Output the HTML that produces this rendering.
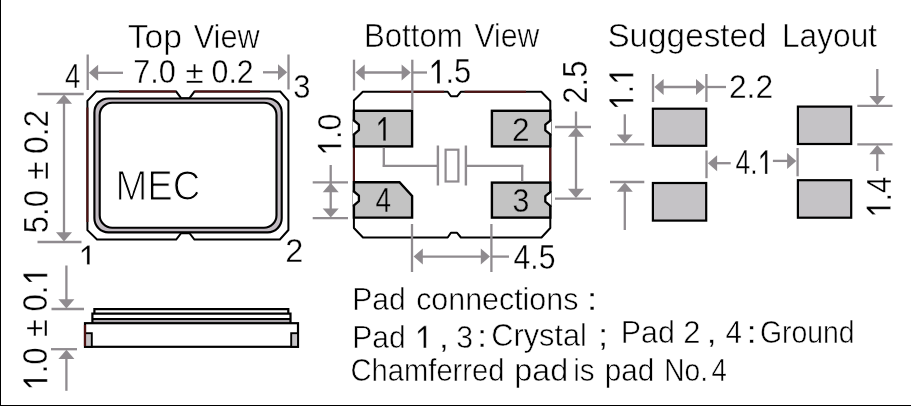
<!DOCTYPE html>
<html><head><meta charset="utf-8"><title>Package drawing</title>
<style>
html,body{margin:0;padding:0;background:#fff;}
body{width:911px;height:406px;overflow:hidden;position:relative;font-family:"Liberation Sans",sans-serif;}
svg{position:absolute;left:0;top:0;display:block;filter:blur(0.6px);}
svg text{font-family:"Liberation Sans",sans-serif;white-space:pre;stroke-linejoin:round;fill:#000;}
.frame{position:absolute;left:0;top:0;width:911px;height:406px;box-sizing:border-box;border-left:1.5px solid #000;border-bottom:1.5px solid #000;}
</style></head><body>
<svg width="911" height="406" viewBox="0 0 911 406">
<rect x="0" y="0" width="911" height="406" fill="#fff"/>
<line x1="87.7" y1="54.5" x2="87.7" y2="90" stroke="#8f8b8f" stroke-width="2.3"/>
<line x1="288.5" y1="54.5" x2="288.5" y2="89.5" stroke="#8f8b8f" stroke-width="2.3"/>
<polygon points="88.90,72.80 98.10,64.80 98.10,80.80" fill="#8f8b8f"/>
<line x1="97" y1="72.8" x2="123" y2="72.8" stroke="#8f8b8f" stroke-width="2.3"/>
<polygon points="287.20,72.30 278.00,64.30 278.00,80.30" fill="#8f8b8f"/>
<line x1="263" y1="72.3" x2="279" y2="72.3" stroke="#8f8b8f" stroke-width="2.3"/>
<g transform="translate(127.73,47.50) scale(1.0524,1.0462)" stroke="#fff" stroke-width="0.55"><text font-size="32">Top</text></g>
<g transform="translate(193.65,47.50) scale(0.9601,1.0462)" stroke="#fff" stroke-width="0.55"><text font-size="32">View</text></g>
<g transform="translate(133.37,83.40) scale(0.9555,1.0580)" stroke="#fff" stroke-width="0.35"><text font-size="32">7.0</text></g>
<g transform="translate(185.41,83.40) scale(1.0332,0.9688)" stroke="#fff" stroke-width="0.35"><text font-size="32">±</text></g>
<g transform="translate(211.59,83.40) scale(0.9471,1.0580)" stroke="#fff" stroke-width="0.35"><text font-size="32">0.2</text></g>
<g transform="translate(64.95,87.70) scale(0.8601,1.0734)" stroke="#fff" stroke-width="0.35"><text font-size="32">4</text></g>
<g transform="translate(293.16,97.60) scale(0.9671,1.0580)" stroke="#fff" stroke-width="0.35"><text font-size="32">3</text></g>
<g transform="translate(78.55,264.60) scale(0.9303,0.8605)" stroke="#fff" stroke-width="0.35"><path d="M12.00,0.00 L12.00,-22.08 L9.70,-22.08 L3.50,-16.78 L3.50,-13.58 L9.00,-18.28 L9.00,0.00 Z"/></g>
<g transform="translate(285.27,262.30) scale(1.0165,1.0580)" stroke="#fff" stroke-width="0.35"><text font-size="32">2</text></g>
<line x1="37.5" y1="94" x2="83.7" y2="94" stroke="#8f8b8f" stroke-width="2.3"/>
<line x1="37.5" y1="242" x2="81.5" y2="242" stroke="#8f8b8f" stroke-width="2.3"/>
<line x1="64" y1="101" x2="64" y2="234" stroke="#8f8b8f" stroke-width="2.3"/>
<polygon points="64.00,94.60 56.00,103.80 72.00,103.80" fill="#8f8b8f"/>
<polygon points="64.00,241.40 56.00,232.20 72.00,232.20" fill="#8f8b8f"/>
<g transform="translate(47.70,233.25) rotate(-90) scale(0.9743,1.0938)" stroke="#fff" stroke-width="0.35"><text font-size="32">5.0</text></g>
<g transform="translate(47.70,179.82) rotate(-90) scale(1.0587,1.0156)" stroke="#fff" stroke-width="0.35"><text font-size="32">±</text></g>
<g transform="translate(47.70,153.97) rotate(-90) scale(0.9904,1.0938)" stroke="#fff" stroke-width="0.35"><text font-size="32">0.2</text></g>
<path d="M96.3,91.6 H176.2 L181.1,98.2 H189.5 L194.4,91.6 H280.3 L288.4,100.8 V230 L279.9,239.5 H194.4 L189.5,233.2 H181.1 L176.2,239.5 H97 L87.4,230.2 V100.8 Z" fill="#fff" stroke="#000" stroke-width="2"/>
<line x1="119" y1="91.6" x2="175.8" y2="91.6" stroke="#4e1212" stroke-width="2"/>
<line x1="194.8" y1="91.6" x2="260" y2="91.6" stroke="#4e1212" stroke-width="2"/>
<line x1="87.4" y1="107.5" x2="87.4" y2="222" stroke="#4e1212" stroke-width="2"/>
<rect x="94.4" y="98.5" width="187.3" height="133.8" rx="14" ry="14" fill="#c2bbc2" stroke="#000" stroke-width="2.15"/>
<rect x="99.7" y="102.7" width="176.8" height="125.0" rx="12.5" ry="12.5" fill="#fff" stroke="#000" stroke-width="2.15"/>
<g transform="translate(115.54,200.30) scale(1.1936,1.3043)" stroke="#fff" stroke-width="0.9"><text font-size="32">MEC</text></g>
<g transform="translate(47.30,390.70) rotate(-90) scale(0.9739,1.0848)" stroke="#fff" stroke-width="0.35"><path d="M12.00,0.00 L12.00,-22.08 L9.70,-22.08 L3.50,-16.78 L3.50,-13.58 L9.00,-18.28 L9.00,0.00 Z"/><text x="17.80" font-size="32">.0</text></g>
<g transform="translate(47.30,336.97) rotate(-90) scale(1.0077,1.0156)" stroke="#fff" stroke-width="0.35"><text font-size="32">±</text></g>
<g transform="translate(47.30,311.55) rotate(-90) scale(0.9764,1.0848)" stroke="#fff" stroke-width="0.35"><text font-size="32">0.</text><path d="M38.69,0.00 L38.69,-22.08 L36.39,-22.08 L30.19,-16.78 L30.19,-13.58 L35.69,-18.28 L35.69,0.00 Z"/></g>
<line x1="51.5" y1="309" x2="84" y2="309" stroke="#8f8b8f" stroke-width="2.3"/>
<line x1="51" y1="349.2" x2="77" y2="349.2" stroke="#8f8b8f" stroke-width="2.3"/>
<line x1="66.4" y1="265.5" x2="66.4" y2="301" stroke="#8f8b8f" stroke-width="2.3"/>
<polygon points="66.40,308.40 58.40,299.20 74.40,299.20" fill="#8f8b8f"/>
<line x1="66.4" y1="357" x2="66.4" y2="390.8" stroke="#8f8b8f" stroke-width="2.3"/>
<polygon points="66.40,349.80 58.40,359.00 74.40,359.00" fill="#8f8b8f"/>
<rect x="92.4" y="319" width="198.1" height="4.2" fill="#a9a4a9" stroke="none"/>
<path d="M94.4,313.6 V309.1 H288.3 V313.6 M92.4,323 V313.6 H290.5 V323 M92.4,319 H290.5" stroke="#000" stroke-width="2.2" fill="none"/>
<rect x="85" y="323.2" width="213" height="23.6" fill="#fff" stroke="#000" stroke-width="2.2"/>
<rect x="85" y="333.2" width="6.8" height="13.6" fill="#c5c3c6" stroke="#000" stroke-width="1.9"/>
<rect x="291.2" y="333.2" width="6.8" height="13.6" fill="#c5c3c6" stroke="#000" stroke-width="1.9"/>
<line x1="85" y1="325" x2="85" y2="346" stroke="#4e1212" stroke-width="2.2"/>
<g transform="translate(363.90,47.00) scale(0.9752,1.0462)" stroke="#fff" stroke-width="0.55"><text font-size="32">Bottom</text></g>
<g transform="translate(474.45,47.00) scale(0.9441,1.0462)" stroke="#fff" stroke-width="0.55"><text font-size="32">View</text></g>
<path d="M362.8,91.7 H447.7 L450.9,96.3 H457.1 L460.9,91.7 H541.3 L550.3,101 V228 L541.5,237.5 H460.9 L457.1,232.8 H450.9 L447.7,237.5 H363 L353.9,228 V100.5 Z" fill="#fff" stroke="#000" stroke-width="2" stroke-linejoin="round"/>
<rect x="353.9" y="110.8" width="58.20" height="35.60" fill="#c3c3c3" stroke="#000" stroke-width="2.4"/>
<rect x="491.9" y="110.8" width="58.40" height="35.60" fill="#c3c3c3" stroke="#000" stroke-width="2.4"/>
<rect x="491.9" y="182.6" width="58.40" height="35.00" fill="#c3c3c3" stroke="#000" stroke-width="2.4"/>
<path d="M353.9,182.3 H399.5 L412.1,196 V217.6 H353.9 Z" fill="#c3c3c3" stroke="#000" stroke-width="2.4"/>
<line x1="353.9" y1="148" x2="353.9" y2="181" stroke="#4e1212" stroke-width="2"/>
<line x1="550.3" y1="148" x2="550.3" y2="181" stroke="#4e1212" stroke-width="2"/>
<line x1="390" y1="91.7" x2="444" y2="91.7" stroke="#4e1212" stroke-width="2"/>
<line x1="464.5" y1="91.7" x2="526" y2="91.7" stroke="#4e1212" stroke-width="2"/>
<path d="M352.9,120.5 L358.9,124.60000000000001 V130.20000000000002 L352.9,134.3 Z" fill="#fff"/>
<path d="M353.9,119.4 V120.5 L358.9,124.60000000000001 V130.20000000000002 L353.9,134.3 V135.4" fill="none" stroke="#000" stroke-width="2.3" stroke-linejoin="round"/>
<path d="M352.9,191.5 L358.9,195.6 V201.20000000000002 L352.9,205.3 Z" fill="#fff"/>
<path d="M353.9,190.4 V191.5 L358.9,195.6 V201.20000000000002 L353.9,205.3 V206.4" fill="none" stroke="#000" stroke-width="2.3" stroke-linejoin="round"/>
<path d="M551.3,120.6 L545.3,124.7 V130.3 L551.3,134.4 Z" fill="#fff"/>
<path d="M550.3,119.5 V120.6 L545.3,124.7 V130.3 L550.3,134.4 V135.5" fill="none" stroke="#000" stroke-width="2.3" stroke-linejoin="round"/>
<path d="M551.3,192.0 L545.3,196.1 V201.70000000000002 L551.3,205.8 Z" fill="#fff"/>
<path d="M550.3,190.9 V192.0 L545.3,196.1 V201.70000000000002 L550.3,205.8 V206.9" fill="none" stroke="#000" stroke-width="2.3" stroke-linejoin="round"/>
<g transform="translate(375.22,140.70) scale(0.8826,1.0734)" stroke="#c3c3c3" stroke-width="0.35"><path d="M12.00,0.00 L12.00,-22.08 L9.70,-22.08 L3.50,-16.78 L3.50,-13.58 L9.00,-18.28 L9.00,0.00 Z"/></g>
<g transform="translate(512.12,140.70) scale(0.9890,1.0580)" stroke="#c3c3c3" stroke-width="0.35"><text font-size="32">2</text></g>
<g transform="translate(512.49,212.20) scale(0.9474,1.0580)" stroke="#c3c3c3" stroke-width="0.35"><text font-size="32">3</text></g>
<g transform="translate(375.44,212.20) scale(0.8725,1.0734)" stroke="#c3c3c3" stroke-width="0.35"><text font-size="32">4</text></g>
<line x1="383.8" y1="147.6" x2="383.8" y2="166.9" stroke="#8f8b8f" stroke-width="2.3"/>
<line x1="382.8" y1="165.9" x2="438" y2="165.9" stroke="#8f8b8f" stroke-width="2.3"/>
<line x1="437.9" y1="145.5" x2="437.9" y2="185.5" stroke="#8f8b8f" stroke-width="2.4"/>
<line x1="465.9" y1="145.5" x2="465.9" y2="185.5" stroke="#8f8b8f" stroke-width="2.4"/>
<rect x="445.6" y="149.7" width="12.8" height="31.8" fill="none" stroke="#8f8b8f" stroke-width="2.2"/>
<line x1="466" y1="165.9" x2="523.2" y2="165.9" stroke="#8f8b8f" stroke-width="2.3"/>
<line x1="522.2" y1="164.9" x2="522.2" y2="181.4" stroke="#8f8b8f" stroke-width="2.3"/>
<line x1="354" y1="59.7" x2="354" y2="90.5" stroke="#8f8b8f" stroke-width="2.3"/>
<line x1="412.3" y1="59.7" x2="412.3" y2="109.6" stroke="#8f8b8f" stroke-width="2.3"/>
<polygon points="355.50,72.50 364.70,64.50 364.70,80.50" fill="#8f8b8f"/>
<polygon points="410.80,72.50 401.60,64.50 401.60,80.50" fill="#8f8b8f"/>
<line x1="363" y1="72.5" x2="403" y2="72.5" stroke="#8f8b8f" stroke-width="2.3"/>
<line x1="412" y1="72.5" x2="427" y2="72.5" stroke="#8f8b8f" stroke-width="2.3"/>
<g transform="translate(428.33,83.40) scale(0.9652,1.0734)" stroke="#fff" stroke-width="0.35"><path d="M12.00,0.00 L12.00,-22.08 L9.70,-22.08 L3.50,-16.78 L3.50,-13.58 L9.00,-18.28 L9.00,0.00 Z"/><text x="17.80" font-size="32">.5</text></g>
<line x1="312.7" y1="182.4" x2="348" y2="182.4" stroke="#8f8b8f" stroke-width="2.3"/>
<line x1="312.7" y1="218.2" x2="348" y2="218.2" stroke="#8f8b8f" stroke-width="2.3"/>
<line x1="330.7" y1="165" x2="330.7" y2="212" stroke="#8f8b8f" stroke-width="2.3"/>
<polygon points="330.70,183.00 322.70,192.20 338.70,192.20" fill="#8f8b8f"/>
<polygon points="330.70,217.60 322.70,208.40 338.70,208.40" fill="#8f8b8f"/>
<g transform="translate(341.20,155.93) rotate(-90) scale(0.9538,1.0580)" stroke="#fff" stroke-width="0.35"><path d="M12.00,0.00 L12.00,-22.08 L9.70,-22.08 L3.50,-16.78 L3.50,-13.58 L9.00,-18.28 L9.00,0.00 Z"/><text x="17.80" font-size="32">.0</text></g>
<line x1="555" y1="127" x2="591" y2="127" stroke="#8f8b8f" stroke-width="2.3"/>
<line x1="555" y1="198.6" x2="591" y2="198.6" stroke="#8f8b8f" stroke-width="2.3"/>
<line x1="576" y1="111.5" x2="576" y2="192" stroke="#8f8b8f" stroke-width="2.3"/>
<polygon points="576.00,127.60 568.00,136.80 584.00,136.80" fill="#8f8b8f"/>
<polygon points="576.00,198.00 568.00,188.80 584.00,188.80" fill="#8f8b8f"/>
<g transform="translate(586.50,103.65) rotate(-90) scale(0.9687,1.0714)" stroke="#fff" stroke-width="0.35"><text font-size="32">2.5</text></g>
<line x1="412" y1="224" x2="412" y2="272" stroke="#8f8b8f" stroke-width="2.3"/>
<line x1="491.4" y1="224" x2="491.4" y2="272" stroke="#8f8b8f" stroke-width="2.3"/>
<polygon points="413.60,256.60 422.80,248.60 422.80,264.60" fill="#8f8b8f"/>
<polygon points="490.00,256.60 480.80,248.60 480.80,264.60" fill="#8f8b8f"/>
<line x1="421" y1="256.6" x2="483" y2="256.6" stroke="#8f8b8f" stroke-width="2.3"/>
<line x1="491.5" y1="256.6" x2="509" y2="256.6" stroke="#8f8b8f" stroke-width="2.3"/>
<g transform="translate(513.60,269.00) scale(0.9422,1.0734)" stroke="#fff" stroke-width="0.35"><text font-size="32">4.5</text></g>
<g transform="translate(607.40,46.80) scale(1.0406,1.0462)" stroke="#fff" stroke-width="0.55"><text font-size="32">Suggested</text></g>
<g transform="translate(781.96,46.80) scale(0.9906,1.0462)" stroke="#fff" stroke-width="0.55"><text font-size="32">Layout</text></g>
<rect x="652.9" y="108.7" width="53.30" height="37.10" fill="#c5c3c6" stroke="#000" stroke-width="2.2"/>
<rect x="652.9" y="183.0" width="53.30" height="37.60" fill="#c5c3c6" stroke="#000" stroke-width="2.2"/>
<rect x="797.9" y="106.6" width="53.30" height="37.40" fill="#c5c3c6" stroke="#000" stroke-width="2.2"/>
<rect x="797.9" y="180.2" width="53.30" height="37.50" fill="#c5c3c6" stroke="#000" stroke-width="2.2"/>
<line x1="653" y1="74" x2="653" y2="102" stroke="#8f8b8f" stroke-width="2.3"/>
<line x1="706.4" y1="74" x2="706.4" y2="102" stroke="#8f8b8f" stroke-width="2.3"/>
<polygon points="654.40,87.00 663.60,79.00 663.60,95.00" fill="#8f8b8f"/>
<polygon points="705.20,87.00 696.00,79.00 696.00,95.00" fill="#8f8b8f"/>
<line x1="662" y1="87" x2="698" y2="87" stroke="#8f8b8f" stroke-width="2.3"/>
<line x1="706.4" y1="87" x2="726" y2="87" stroke="#8f8b8f" stroke-width="2.3"/>
<g transform="translate(728.91,97.80) scale(0.9932,1.0580)" stroke="#fff" stroke-width="0.35"><text font-size="32">2.2</text></g>
<g transform="translate(633.30,110.31) rotate(-90) scale(0.9495,1.0870)" stroke="#fff" stroke-width="0.35"><path d="M12.00,0.00 L12.00,-22.08 L9.70,-22.08 L3.50,-16.78 L3.50,-13.58 L9.00,-18.28 L9.00,0.00 Z"/><text x="17.80" font-size="32">.</text><path d="M38.69,0.00 L38.69,-22.08 L36.39,-22.08 L30.19,-16.78 L30.19,-13.58 L35.69,-18.28 L35.69,0.00 Z"/></g>
<line x1="610" y1="144.3" x2="644.3" y2="144.3" stroke="#8f8b8f" stroke-width="2.3"/>
<line x1="610" y1="182" x2="644.3" y2="182" stroke="#8f8b8f" stroke-width="2.3"/>
<line x1="624.8" y1="114.3" x2="624.8" y2="136" stroke="#8f8b8f" stroke-width="2.3"/>
<polygon points="624.80,143.60 616.80,134.40 632.80,134.40" fill="#8f8b8f"/>
<line x1="624.8" y1="190" x2="624.8" y2="230" stroke="#8f8b8f" stroke-width="2.3"/>
<polygon points="624.80,182.60 616.80,191.80 632.80,191.80" fill="#8f8b8f"/>
<line x1="706.5" y1="150.5" x2="706.5" y2="178.2" stroke="#8f8b8f" stroke-width="2.3"/>
<line x1="797.6" y1="148" x2="797.6" y2="176.3" stroke="#8f8b8f" stroke-width="2.3"/>
<polygon points="707.90,163.20 717.10,155.20 717.10,171.20" fill="#8f8b8f"/>
<line x1="716" y1="163.2" x2="730.7" y2="163.2" stroke="#8f8b8f" stroke-width="2.3"/>
<polygon points="796.30,160.90 787.10,152.90 787.10,168.90" fill="#8f8b8f"/>
<line x1="772.9" y1="160.9" x2="788" y2="160.9" stroke="#8f8b8f" stroke-width="2.3"/>
<g transform="translate(735.47,174.00) scale(0.8254,1.0734)" stroke="#fff" stroke-width="0.35"><text font-size="32">4.</text><path d="M38.69,0.00 L38.69,-22.08 L36.39,-22.08 L30.19,-16.78 L30.19,-13.58 L35.69,-18.28 L35.69,0.00 Z"/></g>
<line x1="857.3" y1="105.9" x2="892.5" y2="105.9" stroke="#8f8b8f" stroke-width="2.3"/>
<line x1="857.3" y1="144.3" x2="892.5" y2="144.3" stroke="#8f8b8f" stroke-width="2.3"/>
<line x1="877.3" y1="69" x2="877.3" y2="97" stroke="#8f8b8f" stroke-width="2.3"/>
<polygon points="877.30,105.20 869.30,96.00 885.30,96.00" fill="#8f8b8f"/>
<line x1="877.3" y1="152" x2="877.3" y2="171" stroke="#8f8b8f" stroke-width="2.3"/>
<polygon points="877.30,145.00 869.30,154.20 885.30,154.20" fill="#8f8b8f"/>
<g transform="translate(890.60,217.61) rotate(-90) scale(0.9200,1.0870)" stroke="#fff" stroke-width="0.35"><path d="M12.00,0.00 L12.00,-22.08 L9.70,-22.08 L3.50,-16.78 L3.50,-13.58 L9.00,-18.28 L9.00,0.00 Z"/><text x="17.80" font-size="32">.4</text></g>
<g transform="translate(352.29,309.50) scale(0.9404,1.0054)" stroke="#fff" stroke-width="0.55"><text font-size="32">Pad</text></g>
<g transform="translate(416.18,309.50) scale(0.9500,1.0054)" stroke="#fff" stroke-width="0.55"><text font-size="32">connections</text></g>
<g transform="translate(586.60,309.50) scale(1.2500,1.0054)" stroke="#fff" stroke-width="0.3"><text font-size="32">:</text></g>
<g transform="translate(352.29,348.00) scale(0.9404,1.0054)" stroke="#fff" stroke-width="0.55"><text font-size="32">Pad</text></g>
<g transform="translate(414.45,348.00) scale(0.9900,1.0054)" stroke="#fff" stroke-width="0.55"><path d="M12.00,0.00 L12.00,-22.08 L9.70,-22.08 L3.50,-16.78 L3.50,-13.58 L9.00,-18.28 L9.00,0.00 Z"/></g>
<g transform="translate(438.80,348.00) scale(1.1500,1.0054)" stroke="#fff" stroke-width="0.3"><text font-size="32">,</text></g>
<g transform="translate(456.29,348.00) scale(0.9474,0.9911)" stroke="#fff" stroke-width="0.55"><text font-size="32">3</text></g>
<g transform="translate(476.98,346.50) scale(1.1513,1.0054)" stroke="#fff" stroke-width="0.3"><text font-size="32">:</text></g>
<g transform="translate(491.16,346.00) scale(0.9620,0.9911)" stroke="#fff" stroke-width="0.55"><text font-size="32">Crystal</text></g>
<g transform="translate(597.95,346.00) scale(1.1500,1.0054)" stroke="#fff" stroke-width="0.3"><text font-size="32">;</text></g>
<g transform="translate(620.77,343.00) scale(0.9499,1.0054)" stroke="#fff" stroke-width="0.55"><text font-size="32">Pad</text></g>
<g transform="translate(683.15,343.00) scale(0.9684,0.9911)" stroke="#fff" stroke-width="0.55"><text font-size="32">2</text></g>
<g transform="translate(706.55,343.00) scale(1.1500,1.0054)" stroke="#fff" stroke-width="0.3"><text font-size="32">,</text></g>
<g transform="translate(725.41,343.00) scale(0.9220,1.0054)" stroke="#fff" stroke-width="0.55"><text font-size="32">4</text></g>
<g transform="translate(746.38,342.50) scale(1.1513,1.0054)" stroke="#fff" stroke-width="0.3"><text font-size="32">:</text></g>
<g transform="translate(759.98,342.50) scale(0.8870,0.9911)" stroke="#fff" stroke-width="0.55"><text font-size="32">Ground</text></g>
<g transform="translate(350.54,381.30) scale(0.9112,0.9911)" stroke="#fff" stroke-width="0.55"><text font-size="32">Chamferred</text></g>
<g transform="translate(514.20,381.30) scale(1.0098,1.0054)" stroke="#fff" stroke-width="0.55"><text font-size="32">pad</text></g>
<g transform="translate(573.17,381.30) scale(0.9274,1.0054)" stroke="#fff" stroke-width="0.55"><text font-size="32">is</text></g>
<g transform="translate(604.77,381.30) scale(0.9283,1.0054)" stroke="#fff" stroke-width="0.55"><text font-size="32">pad</text></g>
<g transform="translate(664.25,381.30) scale(0.8800,1.0054)" stroke="#fff" stroke-width="0.55"><text font-size="32">No.</text></g>
<g transform="translate(711.55,381.30) scale(0.8601,1.0054)" stroke="#fff" stroke-width="0.55"><text font-size="32">4</text></g>
</svg>
<div class="frame"></div>
</body></html>
